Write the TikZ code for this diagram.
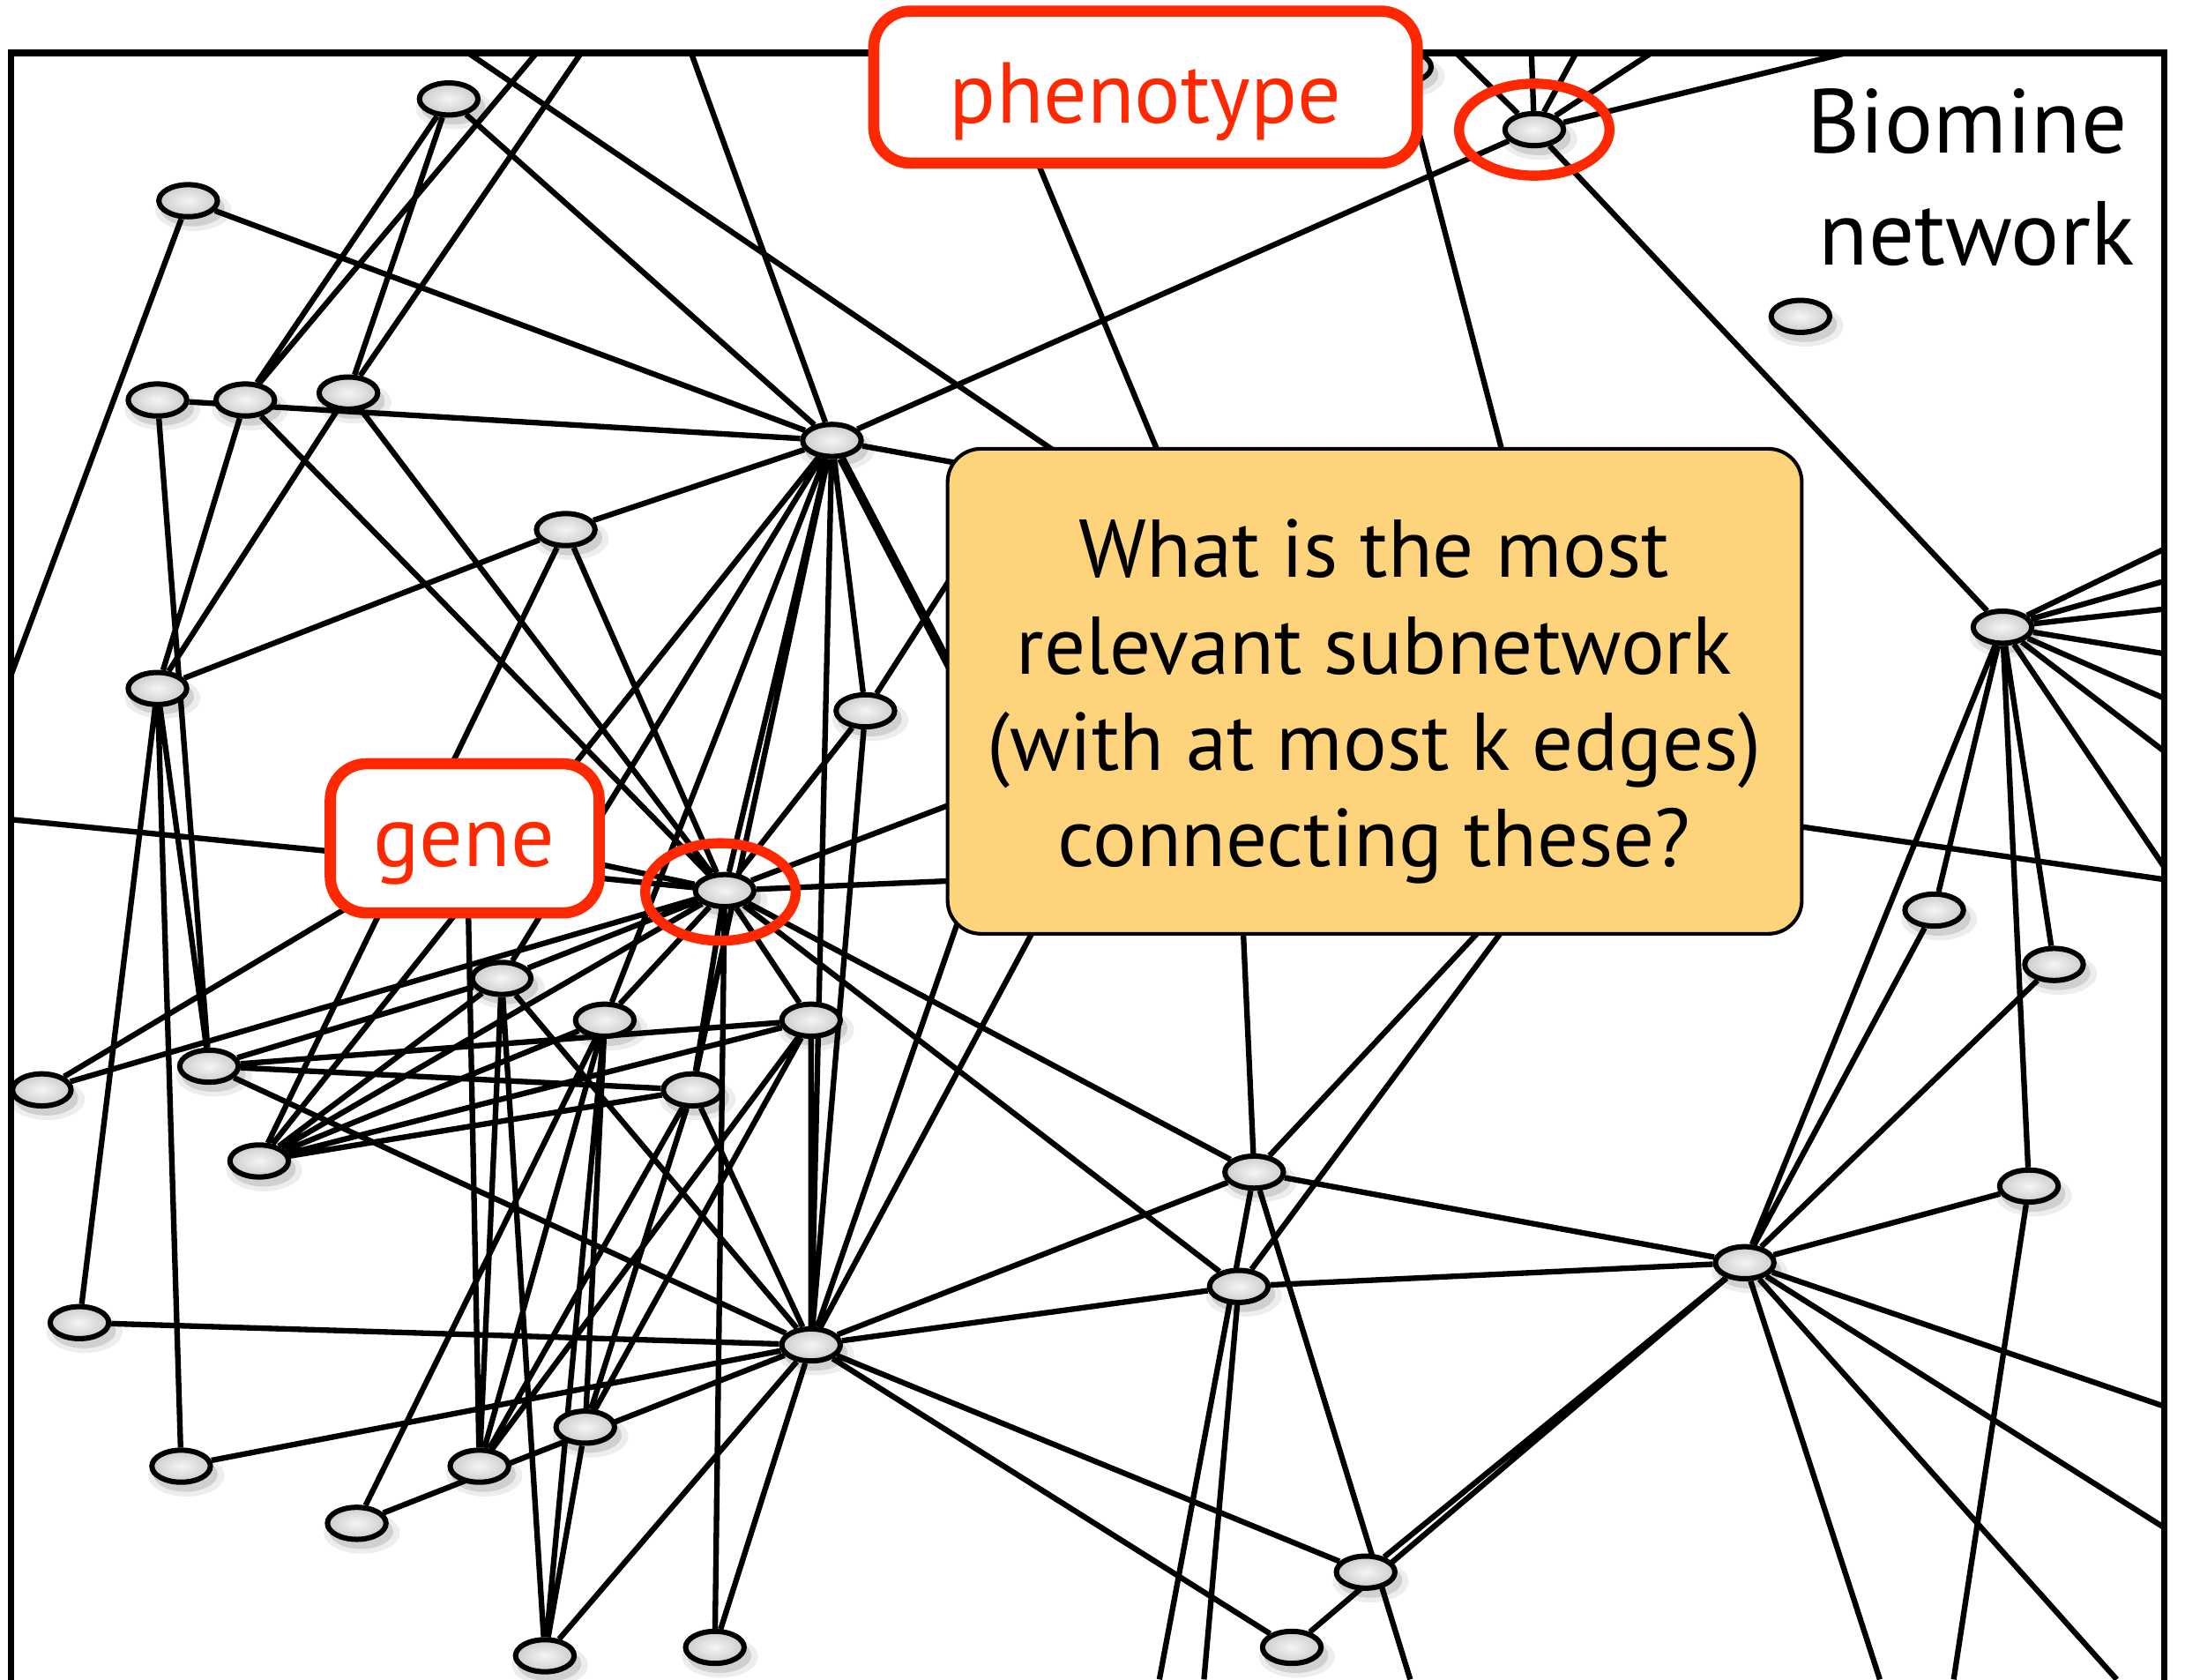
\documentclass[tikz,border=0pt]{standalone}
\usepackage{fontspec}
\setmainfont{PT Sans}
\usetikzlibrary{shapes.geometric,shadows}
\definecolor{alertred}{RGB}{255,40,0}
\definecolor{notefill}{RGB}{253,212,124}
\pgfdeclarelayer{paper}
\pgfdeclarelayer{edges}
\pgfsetlayers{paper,edges,main}
\begin{document}
\begin{tikzpicture}[x=0.5pt,y=-0.5pt,
  nd/.style={ellipse,draw,line width=1.9pt,inner color=gray!8,outer color=gray!40,
             minimum width=21pt,minimum height=11.5pt,inner sep=0pt,
             general shadow={shadow xshift=1.4pt,shadow yshift=-2.6pt,shadow scale=1.3,fill=black,opacity=0.07},
             general shadow={shadow xshift=1.4pt,shadow yshift=-2.6pt,shadow scale=1.1,fill=black,opacity=0.12}},
  link/.style={line width=2pt},
  heavylink/.style={line width=3.2pt},
  tagbox/.style={draw=alertred,line width=4pt,rounded corners=13pt,fill=white},
  ring/.style={draw=alertred,line width=3.6pt},
  tagtext/.style={text=alertred,font=\fontsize{31}{36}\selectfont,inner sep=0pt,anchor=base},
  qtext/.style={font=\fontsize{29.4}{34}\selectfont,inner sep=0pt,anchor=base}]
\useasboundingbox (0,0) rectangle (1568,1205);
\begin{pgfonlayer}{paper}
\fill[white] (0,0) rectangle (1568,1205);
\end{pgfonlayer}

% ---------- network nodes ----------
\node[nd] (A) at (322,71) {};
\node[nd] (B) at (135,144) {};
\node[nd] (C) at (113,287) {};
\node[nd] (D) at (176,287) {};
\node[nd] (E) at (250,282) {};
\node[nd] (F) at (597,316) {};
\node[nd] (G) at (406,380) {};
\node[nd] (H) at (113,494) {};
\node[nd] (I) at (621,510) {};
\node[nd] (J) at (520,639) {};
\node[nd] (K) at (360,702) {};
\node[nd] (L) at (434,732) {};
\node[nd] (M) at (582,732) {};
\node[nd] (N) at (150,765) {};
\node[nd] (O) at (30,782) {};
\node[nd] (P) at (497,782) {};
\node[nd] (Q) at (186,833) {};
\node[nd] (R) at (57,949) {};
\node[nd] (S) at (582,965) {};
\node[nd] (T) at (420,1024) {};
\node[nd] (U) at (130,1052) {};
\node[nd] (V) at (344,1052) {};
\node[nd] (W) at (256,1093) {};
\node[nd] (X) at (391,1188) {};
\node[nd] (Y) at (513,1182) {};
\node[nd] (Z) at (1101,93) {};
\node[nd] (Z0) at (1006,48) {};
\node[nd] (AA) at (1292,227) {};
\node[nd] (AB) at (1437,450) {};
\node[nd] (AC) at (1388,653) {};
\node[nd] (AD) at (1474,692) {};
\node[nd] (AE) at (900,841) {};
\node[nd] (AF) at (1456,851) {};
\node[nd] (AG) at (1252,906) {};
\node[nd] (AH) at (889,923) {};
\node[nd] (AI) at (980,1128) {};
\node[nd] (AJ) at (927,1182) {};

% ---------- where links leave the frame ----------
\coordinate (t1) at (336,38);  \coordinate (t2) at (385,38);
\coordinate (t3) at (417,38);  \coordinate (t4) at (496,38);
\coordinate (t5) at (712,38);  \coordinate (t6) at (1045,38);
\coordinate (t7) at (1099,38); \coordinate (t8) at (1131,38);
\coordinate (t9) at (1185,38); \coordinate (t10) at (1325,38);
\coordinate (l1) at (8,484);   \coordinate (l2) at (8,588);
\coordinate (r1) at (1553,394); \coordinate (r2) at (1553,417);
\coordinate (r3) at (1553,437); \coordinate (r4) at (1553,469);
\coordinate (r5) at (1553,501); \coordinate (r6) at (1553,539);
\coordinate (r7) at (1553,622); \coordinate (r8) at (1553,631);
\coordinate (r9) at (1553,1009); \coordinate (r10) at (1553,1096);
\coordinate (b1) at (1519,1205); \coordinate (b2) at (1349,1205);
\coordinate (b3) at (1402,1205); \coordinate (b4) at (832,1205);
\coordinate (b5) at (864,1205);  \coordinate (b6) at (1012,1205);
% ends hidden under the labels
\coordinate (qb1) at (800,353);  \coordinate (qb2) at (850,370);
\coordinate (qb3) at (1090,370); \coordinate (qb4) at (1250,587);
\coordinate (qb5) at (720,552);  \coordinate (qb6) at (730,340);
\coordinate (qb7) at (720,356);  \coordinate (qb8) at (730,630);
\coordinate (qb9) at (730,559);  \coordinate (qb10) at (700,625);
\coordinate (qb11) at (765,624); \coordinate (qb12) at (890,620);
\coordinate (qb13) at (1100,627); \coordinate (qb14) at (1115,618);
\coordinate (hid) at (335,600);

% ---------- links ----------
\begin{pgfonlayer}{edges}
\draw[link]
  (A)--(D) (A)--(E) (A)--(F)
  (B)--(F) (B)--(l1)
  (C)--(F) (C)--(N)
  (D)--(t2) (D)--(H) (D)--(J)
  (E)--(t3) (E)--(H) (E)--(J)
  (t1)--(qb1) (t5)--(qb2) (Z0)--(qb3)
  (F)--(t4) (F)--(G) (F)--(Z) (F)--(I) (F)--(K) (F)--(L) (F)--(J)
  (F)--(P) (F)--(S) (F)--(Q) (F)--(qb6)
  (G)--(H) (G)--(Q) (G)--(J)
  (H)--(R) (H)--(U) (H)--(N)
  (I)--(J) (I)--(S) (I)--(qb7)
  (J)--(l2) (J)--(qb8) (J)--(qb9) (J)--(hid) (J)--(O) (J)--(K) (J)--(Q)
  (J)--(L) (J)--(P) (J)--(Y) (J)--(M) (J)--(AE) (J)--(AH)
  (K)--(Q) (K)--(N) (K)--(S) (K)--(V) (K)--(X)
  (L)--(Q) (L)--(T) (L)--(V) (L)--(X) (L)--(W)
  (M)--(N) (M)--(Q) (M)--(S) (M)--(T) (M)--(V)
  (N)--(P) (N)--(S)
  (O)--(hid) (V)--(hid)
  (P)--(Q) (P)--(S) (P)--(T) (P)--(V)
  (S)--(R) (S)--(U) (S)--(W) (S)--(X) (S)--(Y) (S)--(AE) (S)--(AH)
  (S)--(AI) (S)--(AJ) (S)--(qb10) (S)--(qb11)
  (T)--(X)
  (Z)--(t6) (Z)--(t7) (Z)--(t8) (Z)--(t9) (Z)--(t10) (Z)--(AB)
  (AB)--(r1) (AB)--(r2) (AB)--(r3) (AB)--(r4) (AB)--(r5) (AB)--(r6) (AB)--(r7)
  (AB)--(AG) (AB)--(AC) (AB)--(AD) (AB)--(AF)
  (AC)--(AG) (AD)--(AG) (AF)--(AG) (AF)--(b3)
  (AG)--(r9) (AG)--(r10) (AG)--(b1) (AG)--(b2)
  (AG)--(AI) (AG)--(AJ) (AG)--(AE) (AG)--(AH)
  (AE)--(b4) (AE)--(b6) (AH)--(b5)
  (AE)--(qb12) (AE)--(qb13) (AH)--(qb14)
  (qb4)--(r8);
\draw[heavylink] (F)--(qb5);
\end{pgfonlayer}

% ---------- frame ----------
\draw[line width=2.4pt] (8,1230) -- (8,38) -- (1553,38) -- (1553,1230);

% ---------- question box ----------
\node[draw,line width=1.3pt,fill=notefill,rounded corners=12pt,
      minimum width=306.5pt,minimum height=174pt,inner sep=0pt]
      (qbox) at (986.5,496) {};
\node[qtext] (q1) at (986,414) {What is the most};
\node[qtext] (q2) at (986,484) {relevant subnetwork};
\node[qtext] (q3) at (986,553) {(with at most k edges)};
\node[qtext] (q4) at (986,622) {connecting these?};

% ---------- red labels ----------
\node[tagbox,minimum width=195pt,minimum height=54.5pt] (phbox) at (822,62.5) {};
\node[tagtext] (phtext) at (822,88) {phenotype};
\node[tagbox,minimum width=96.5pt,minimum height=53.5pt] (gnbox) at (333.5,601.5) {};
\node[tagtext] (gntext) at (333,622) {gene};
\draw[ring] (Z) ellipse [x radius=54,y radius=33];
\draw[ring] (517,640) ellipse [x radius=54,y radius=35];

% ---------- title ----------
\node[font=\fontsize{32.6}{38}\selectfont,inner sep=0pt,anchor=base east] (t1txt) at (1527,110) {Biomine};
\node[font=\fontsize{32.6}{38}\selectfont,inner sep=0pt,anchor=base east] (t2txt) at (1532,190) {network};
\end{tikzpicture}
\end{document}
